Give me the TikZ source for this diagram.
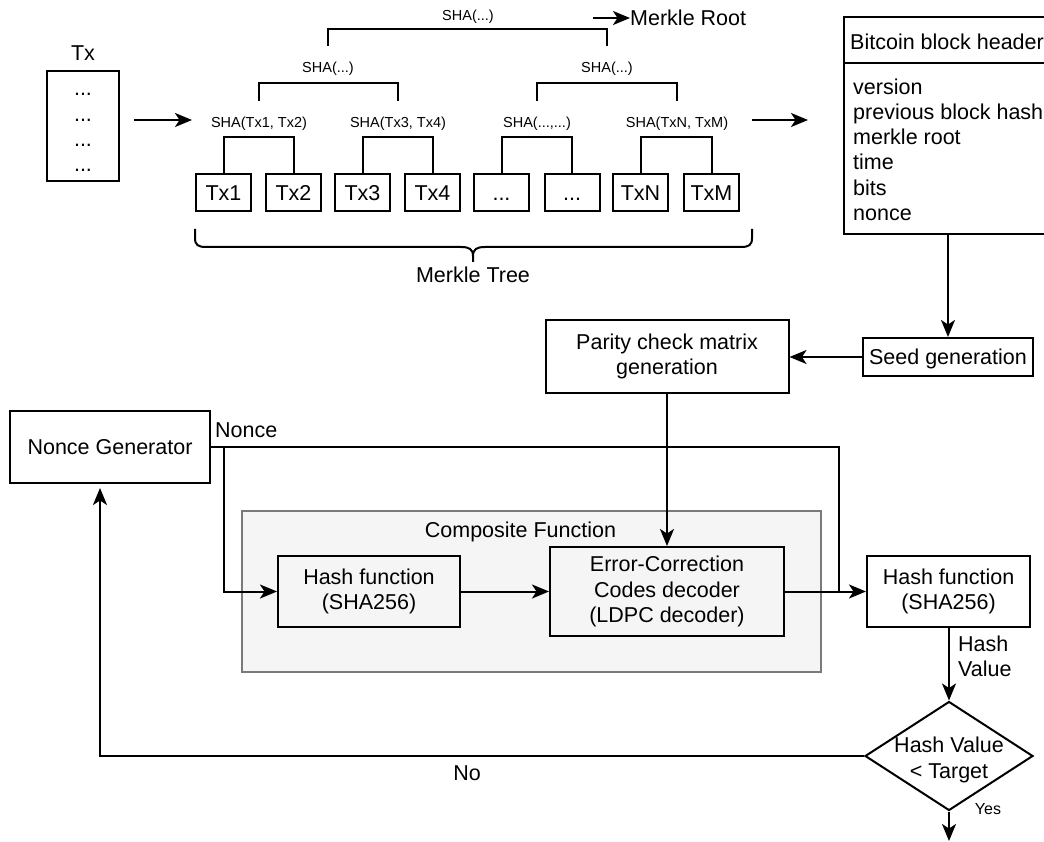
\documentclass[tikz,border=0pt]{standalone}
\usepackage{fontspec}
\setmainfont{Liberation Sans}
\usetikzlibrary{arrows.meta,shapes.geometric,calc}
\definecolor{cgray}{HTML}{7A7A7A}
\definecolor{cfill}{HTML}{F5F5F5}
\begin{document}
\begin{tikzpicture}[x=1pt,y=-1pt,
  every node/.style={font=\fontsize{21.5}{25.2}\selectfont, inner sep=0pt},
  ln/.style={line width=2pt},
  arr/.style={ln, -{Stealth[length=17pt,width=14pt,inset=4.5pt]}},
  box/.style={draw, line width=2pt, rectangle, align=center},
  one/.style={text height=19.5pt, text depth=4.2pt},
  small/.style={font=\fontsize{14.5}{17}\selectfont},
  sha/.style={small, minimum height=46pt},
  txb/.style={box, one, minimum width=55pt, minimum height=37pt},
]
\useasboundingbox (0,0) rectangle (1044,842);
\clip (0,0) rectangle (1044,842);

% ---------- transactions list ----------
\node[one] (txlab) at (83,53) {Tx};
\node[box, minimum width=72pt, minimum height=110pt] (txl) at (83,126) {};
\foreach \y [count=\i] in {96,121.3,146.6,172} \node[anchor=base] (d\i) at (83,\y) {...};
\coordinate (a1) at (134,120);
\coordinate (a2) at (192,120);
\draw[arr] (a1) -- (a2);

% ---------- Merkle tree ----------
\node[txb] (tx1) at (223.5,192.5) {Tx1};
\node[txb] (tx2) at (293.5,192.5) {Tx2};
\node[txb] (tx3) at (362.5,192.5) {Tx3};
\node[txb] (tx4) at (432.5,192.5) {Tx4};
\node[txb] (tx5) at (501.5,192.5) {...};
\node[txb] (tx6) at (572,192.5) {...};
\node[txb] (txN) at (640.5,192.5) {TxN};
\node[txb] (txM) at (711.5,192.5) {TxM};

\node[sha] (sha12) at (259,124) {SHA(Tx1, Tx2)};
\node[sha] (sha34) at (398,124) {SHA(Tx3, Tx4)};
\node[sha] (shadd) at (537,124) {SHA(...,...)};
\node[sha] (shaNM) at (677,124) {SHA(TxN, TxM)};
\node[sha] (shaL) at (328,69) {SHA(...)};
\node[sha] (shaR) at (607,69) {SHA(...)};
\node[small] (shaT) at (468,17) {SHA(...)};

\draw[ln] (tx1.north) -- ++(0,-36) -| (tx2.north);
\draw[ln] (tx3.north) -- ++(0,-36) -| (tx4.north);
\draw[ln] (tx5.north) -- ++(0,-36) -| (tx6.north);
\draw[ln] (txN.north) -- ++(0,-36) -| (txM.north);
\draw[ln] (sha12.north) -- ++(0,-18) -| (sha34.north);
\draw[ln] (shadd.north) -- ++(0,-18) -| (shaNM.north);
\draw[ln] (shaL.north) -- ++(0,-17) -| (shaR.north);

\coordinate (mr0) at (593,18);
\node[anchor=west, one] (mroot) at (630,18) {Merkle Root};
\draw[arr] (mr0) -- (mroot.west);

% curly brace
\draw[ln] (195,229) -- (195,238) .. controls (195,245) and (198,247) .. (206,247) -- (461,247)
  .. controls (469,247) and (473,249) .. (473,256) -- (473,262);
\draw[ln] (752,229) -- (752,238) .. controls (752,245) and (749,247) .. (741,247) -- (485,247)
  .. controls (477,247) and (473,249) .. (473,256);
\node[one] (mt) at (473,275) {Merkle Tree};

\coordinate (a3) at (752,120);
\coordinate (a4) at (808,120);
\draw[arr] (a3) -- (a4);

% ---------- block header ----------
\node[box, minimum width=208pt, minimum height=217pt] (hdr) at (948,125.5) {};
\draw[ln] ($(hdr.north west)+(0,47)$) -- ($(hdr.north east)+(0,47)$);
\node[anchor=west, one] (hdrt) at (850,42) {Bitcoin block header};
\foreach \t [count=\i] in {version, previous block hash, merkle root, time, bits, nonce}
  \node[anchor=base west] (f\i) at (853,{94.4+25.2*(\i-1)}) {\t};

% ---------- lower flow ----------
\node[box, one, minimum width=170pt, minimum height=38pt] (seed) at (948,357) {Seed generation};
\draw[arr] (hdr.south) -- (seed.north);
\node[box, minimum width=243pt, minimum height=73pt] (pcm) at (667,356.5) {Parity check matrix\\generation};
\draw[arr] (seed.west) -- (seed.west -| pcm.east);

\node[draw=cgray, fill=cfill, line width=1.5pt, minimum width=579pt, minimum height=161pt] (comp) at (531.5,591.5) {};
\node[one] (compl) at (520.5,530) {Composite Function};

\node[box, one, minimum width=200pt, minimum height=72pt] (ng) at (110,447) {Nonce Generator};
\node[anchor=west, one] (nl) at (215,430) {Nonce};
\node[box, minimum width=182pt, minimum height=71pt] (lh) at (369,591.5) {Hash function\\(SHA256)};
\node[box, minimum width=234pt, minimum height=89pt] (ecc) at (667,591.5) {Error-Correction\\Codes decoder\\(LDPC decoder)};
\node[box, minimum width=163pt, minimum height=71pt] (rh) at (948.5,591.5) {Hash function\\(SHA256)};

\coordinate (j) at (839,591.5);
\coordinate (br) at (224,447);
\draw[ln] (ng.east) -| (j);
\draw[arr] (br) |- (lh.west);
\draw[arr] (pcm.south) -- (ecc.north);
\draw[arr] (lh.east) -- (ecc.west);
\draw[arr] (ecc.east) -- (rh.west);

\node[draw, diamond, line width=2pt, minimum width=168pt, minimum height=109pt] (dia) at (949,756) {};
\node[align=center] (diat) at (949,760) {Hash Value\\< Target};
\draw[arr] (rh.south -| dia.north) -- (dia.north);
\node[anchor=north west, align=left] (hv) at (958,635.5) {Hash\\Value};

\coordinate (yend) at (949,841);
\draw[arr] (dia.south) -- (yend);
\node[font=\fontsize{16}{19}\selectfont] (yes) at (988,809) {Yes};

\draw[arr] (dia.west) -| ($(ng.south)+(-10,4)$);
\node[one] (no) at (467,773) {No};
\end{tikzpicture}
\end{document}
